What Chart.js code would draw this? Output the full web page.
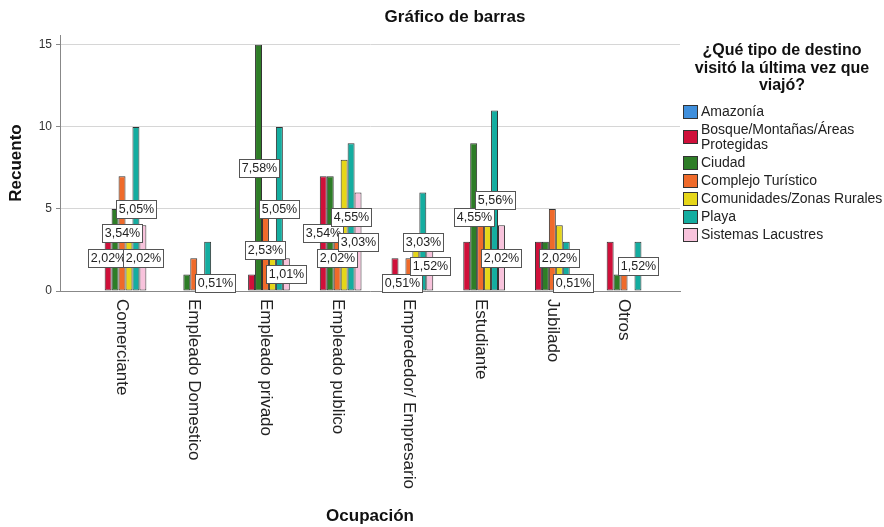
<!DOCTYPE html>
<html>
<head>
<meta charset="utf-8">
<title>Gráfico de barras</title>
<script src="https://cdn.jsdelivr.net/npm/chart.js@4.4.1/dist/chart.umd.min.js"></script>
<style>
  body { margin: 0; background: #fff; font-family: "Liberation Sans", Arial, sans-serif; }
  #wrap { position: relative; width: 884px; height: 527px; overflow: hidden; }
  #mainTitle { position: absolute; left: 0; top: 7px; width: 910px; text-align: center; font-weight: bold; font-size: 17px; color: #111; }
  #legend { position: absolute; left: 683px; top: 41px; width: 200px; color: #222; }
  #legendTitle { width: 190px; margin-left: 4px; text-align: center; font-weight: bold; font-size: 16px; line-height: 17.5px; margin-bottom: 9px; color: #111; }
  .item { display: flex; align-items: center; min-height: 18px; padding: 1.5px 0; box-sizing: border-box; font-size: 14px; line-height: 15px; }
  .swatch { width: 15px; height: 14px; border: 1px solid #333; box-sizing: border-box; margin-right: 3px; flex: none; }
</style>
</head>
<body>
<div id="wrap">
  <canvas id="barChart" width="884" height="527"></canvas>
  <div id="mainTitle">Gráfico de barras</div>
  <div id="legend"><div id="legendTitle"></div></div>
</div>
<script>
const categories = ['Comerciante', 'Empleado Domestico', 'Empleado privado', 'Empleado publico',
                    'Emprededor/ Empresario', 'Estudiante', 'Jubilado', 'Otros'];
const seriesNames = ['Amazonía', 'Bosque/Montañas/Áreas Protegidas', 'Ciudad', 'Complejo Turístico',
                     'Comunidades/Zonas Rurales', 'Playa', 'Sistemas Lacustres'];
const seriesColors = ['#3f8fdc', '#d0103a', '#2e7d27', '#ef6a2a', '#e6d619', '#14ada0', '#f8c3dc'];

// counts per destination, in the order of categories
const amazonia    = [0, 0, 0, 0, 0, 0, 0, 0];
const bosque      = [4, 0, 1, 7, 2, 3, 3, 3];
const ciudad      = [5, 1, 15, 7, 1, 9, 3, 1];
const complejo    = [7, 2, 5, 4, 2, 5, 5, 1];
const comunidades = [4, 0, 3, 8, 3, 4, 4, 0];
const playa       = [10, 3, 10, 9, 6, 11, 3, 3];
const lacustres   = [4, 1, 2, 6, 3, 4, 1, 0];

// which bars show their % label (the rest are hidden by overlap in the original)
const showAmazonia    = [0, 0, 0, 0, 0, 0, 0, 0];
const showBosque      = [1, 0, 0, 1, 0, 0, 0, 0];
const showCiudad      = [0, 0, 1, 0, 1, 1, 0, 0];
const showComplejo    = [1, 0, 1, 1, 0, 0, 0, 0];
const showComunidades = [0, 0, 0, 0, 0, 0, 1, 0];
const showPlaya       = [1, 0, 1, 1, 1, 1, 0, 1];
const showLacustres   = [1, 1, 1, 1, 1, 1, 1, 0];

const yTicks = [0, 5, 10, 15];
const legendTitle = '¿Qué tipo de destino visitó la última vez que viajó?';

const counts = [amazonia, bosque, ciudad, complejo, comunidades, playa, lacustres];
const shown = [showAmazonia, showBosque, showCiudad, showComplejo, showComunidades, showPlaya, showLacustres];
const total = counts.flat().reduce((a, b) => a + b, 0);
const FONT = '"Liberation Sans", Arial, sans-serif';

// percentage boxes in the middle of the bars
const barLabels = {
    id: 'barLabels',
    afterDatasetsDraw(chart) {
        const ctx = chart.ctx;
        ctx.save();
        ctx.font = '12.5px ' + FONT;
        ctx.textAlign = 'center';
        ctx.textBaseline = 'middle';
        chart.data.datasets.forEach((ds, d) => {
            const meta = chart.getDatasetMeta(d);
            shown[d].forEach((s, i) => {
                if (!s || !counts[d][i]) return;
                const bar = meta.data[i];
                const txt = (counts[d][i] / total * 100).toFixed(2).replace('.', ',') + '%';
                const w = Math.round(ctx.measureText(txt).width + 5);
                const h = 18;
                const left = Math.round(bar.x - w / 2);
                const top = Math.round((bar.y + bar.base) / 2 - h / 2);
                ctx.fillStyle = '#fff';
                ctx.fillRect(left, top, w, h);
                ctx.strokeStyle = '#555';
                ctx.lineWidth = 1;
                ctx.strokeRect(left + 0.5, top + 0.5, w, h);
                ctx.fillStyle = '#222';
                ctx.fillText(txt, left + w / 2 + 0.5, top + h / 2 + 1);
            });
        });
        ctx.restore();
    }
};

// vertical category names under the axis
const xLabels = {
    id: 'xLabels',
    afterDraw(chart) {
        const {ctx, chartArea} = chart;
        const xScale = chart.scales.x;
        ctx.save();
        ctx.font = '17px ' + FONT;
        ctx.fillStyle = '#222';
        ctx.textAlign = 'left';
        ctx.textBaseline = 'middle';
        categories.forEach((c, i) => {
            ctx.save();
            ctx.translate(xScale.getPixelForValue(i), chartArea.bottom + 8);
            ctx.rotate(Math.PI / 2);
            ctx.fillText(c, 0, 0);
            ctx.restore();
        });
        ctx.restore();
    }
};

document.addEventListener("DOMContentLoaded", function () {
    const canvas = document.getElementById('barChart');
    if (!canvas) {
        console.error('canvas not found!');
        return;
    }

    // legend
    const legend = document.getElementById('legend');
    document.getElementById('legendTitle').textContent = legendTitle;
    seriesNames.forEach((name, k) => {
        const row = document.createElement('div');
        row.className = 'item';
        const sw = document.createElement('span');
        sw.className = 'swatch';
        sw.style.background = seriesColors[k];
        const tx = document.createElement('span');
        tx.textContent = name;
        row.appendChild(sw);
        row.appendChild(tx);
        legend.appendChild(row);
    });

    const datasets = seriesNames.map((name, k) => ({
        label: name,
        data: counts[k].map((v, i) => ({x: i, y: v === 0 ? null : v})),
        backgroundColor: seriesColors[k],
        borderColor: '#333',
        borderWidth: 1,
        borderSkipped: false,
        barPercentage: 1,
        categoryPercentage: 0.87
    }));

    try {
        new Chart(canvas.getContext('2d'), {
            type: 'bar',
            data: { datasets: datasets },
            options: {
                responsive: false,
                animation: false,
                devicePixelRatio: 1,
                layout: { padding: { left: 0, right: 204, top: 35, bottom: 0 } },
                plugins: {
                    legend: { display: false },
                    title: { display: false },
                    tooltip: { enabled: false }
                },
                scales: {
                    x: {
                        type: 'linear',
                        offset: false,
                        min: -0.865,
                        max: categories.length - 1 + 0.78,
                        ticks: { display: false },
                        grid: { display: false },
                        border: { display: true, color: '#888', width: 1 },
                        afterFit: function (scale) { scale.height = 236; },
                        title: {
                            display: true,
                            text: 'Ocupación',
                            color: '#111',
                            font: { family: FONT, size: 17, weight: 'bold' },
                            padding: { top: 4, bottom: 0 }
                        }
                    },
                    y: {
                        min: 0,
                        max: 15.6,
                        afterBuildTicks: function (scale) {
                            scale.ticks = yTicks.map(v => ({ value: v }));
                        },
                        ticks: {
                            color: '#333',
                            padding: 4,
                            font: { family: FONT, size: 12 }
                        },
                        grid: { color: '#d6d6d6', tickColor: '#888', tickLength: 4 },
                        border: { display: true, color: '#888', width: 1 },
                        afterFit: function (scale) { scale.width = 60; },
                        title: {
                            display: true,
                            text: 'Recuento',
                            color: '#111',
                            font: { family: FONT, size: 17, weight: 'bold' },
                            padding: { top: 6, bottom: 0 }
                        }
                    }
                }
            },
            plugins: [barLabels, xLabels]
        });
    } catch (error) {
        console.error('Error creating chart:', error);
    }
});
</script>
</body>
</html>
